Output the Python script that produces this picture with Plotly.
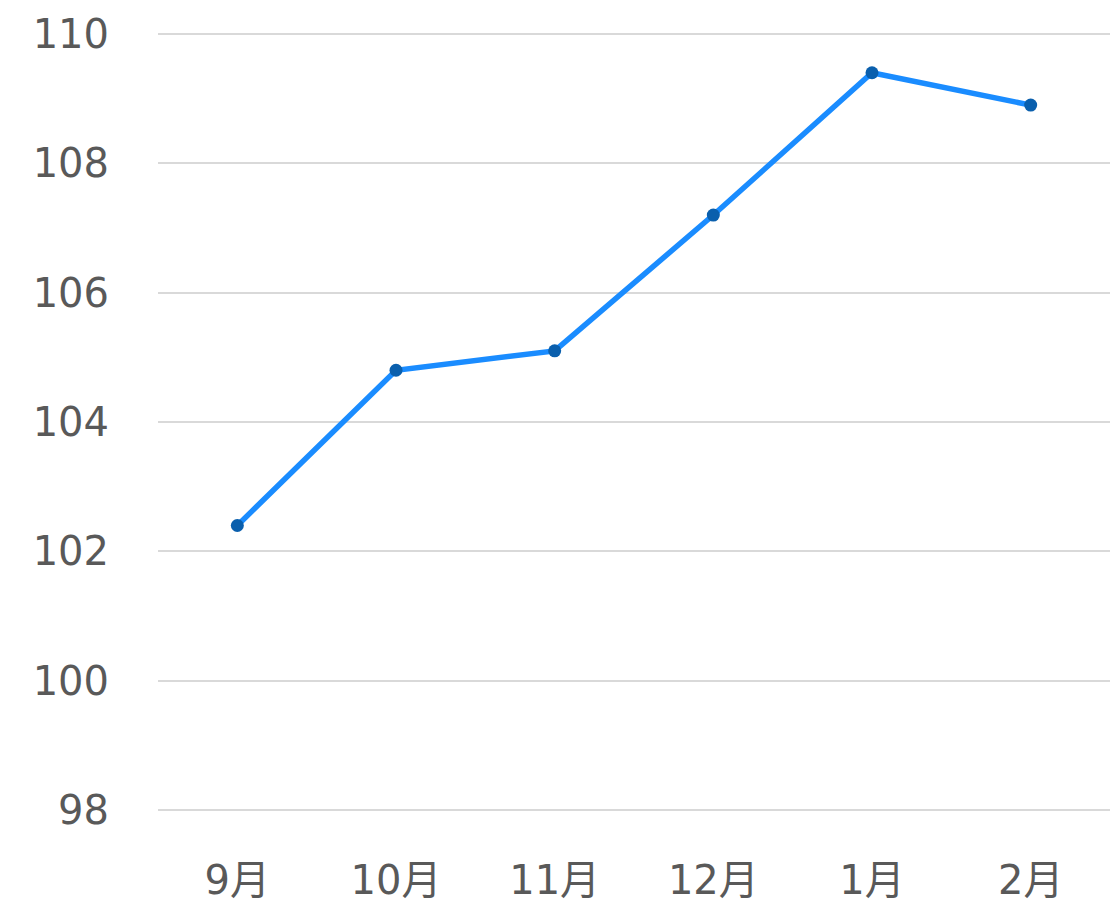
import plotly.graph_objects as go

months = ["9月", "10月", "11月", "12月", "1月", "2月"]
values = [102.4, 104.8, 105.1, 107.2, 109.4, 108.9]
y_ticks = [98, 100, 102, 104, 106, 108, 110]

fig = go.Figure(go.Scatter(
    x=months, y=values, mode="lines+markers",
    line=dict(color="#1a8cff", width=5.5),
    marker=dict(color="#0a5fad", size=13),
    cliponaxis=False,
))

# page body has an 8px margin, so the figure is offset to line up with the window
fig.update_layout(
    width=1112, height=901,
    margin=dict(l=150, r=10, t=24, b=97),
    paper_bgcolor="white", plot_bgcolor="white",
    font=dict(family="DejaVu Sans, Verdana, Noto Sans CJK JP", size=40, color="#595959"),
    showlegend=False,
)
fig.update_xaxes(
    type="category", range=[-0.5, len(months) - 0.5],
    showgrid=False, showline=False, zeroline=False,
    ticks="", ticklabelstandoff=41, automargin=False,
    tickfont=dict(size=40, family="DejaVu Sans, Noto Sans CJK JP"),
)
fig.update_yaxes(
    range=[97.97, 110.03], tickvals=y_ticks, showgrid=True, gridcolor="#d9d9d9", gridwidth=2,
    zeroline=False, showline=False, ticks="", ticklabelstandoff=48, automargin=False,
)
fig.write_html("out.html")
